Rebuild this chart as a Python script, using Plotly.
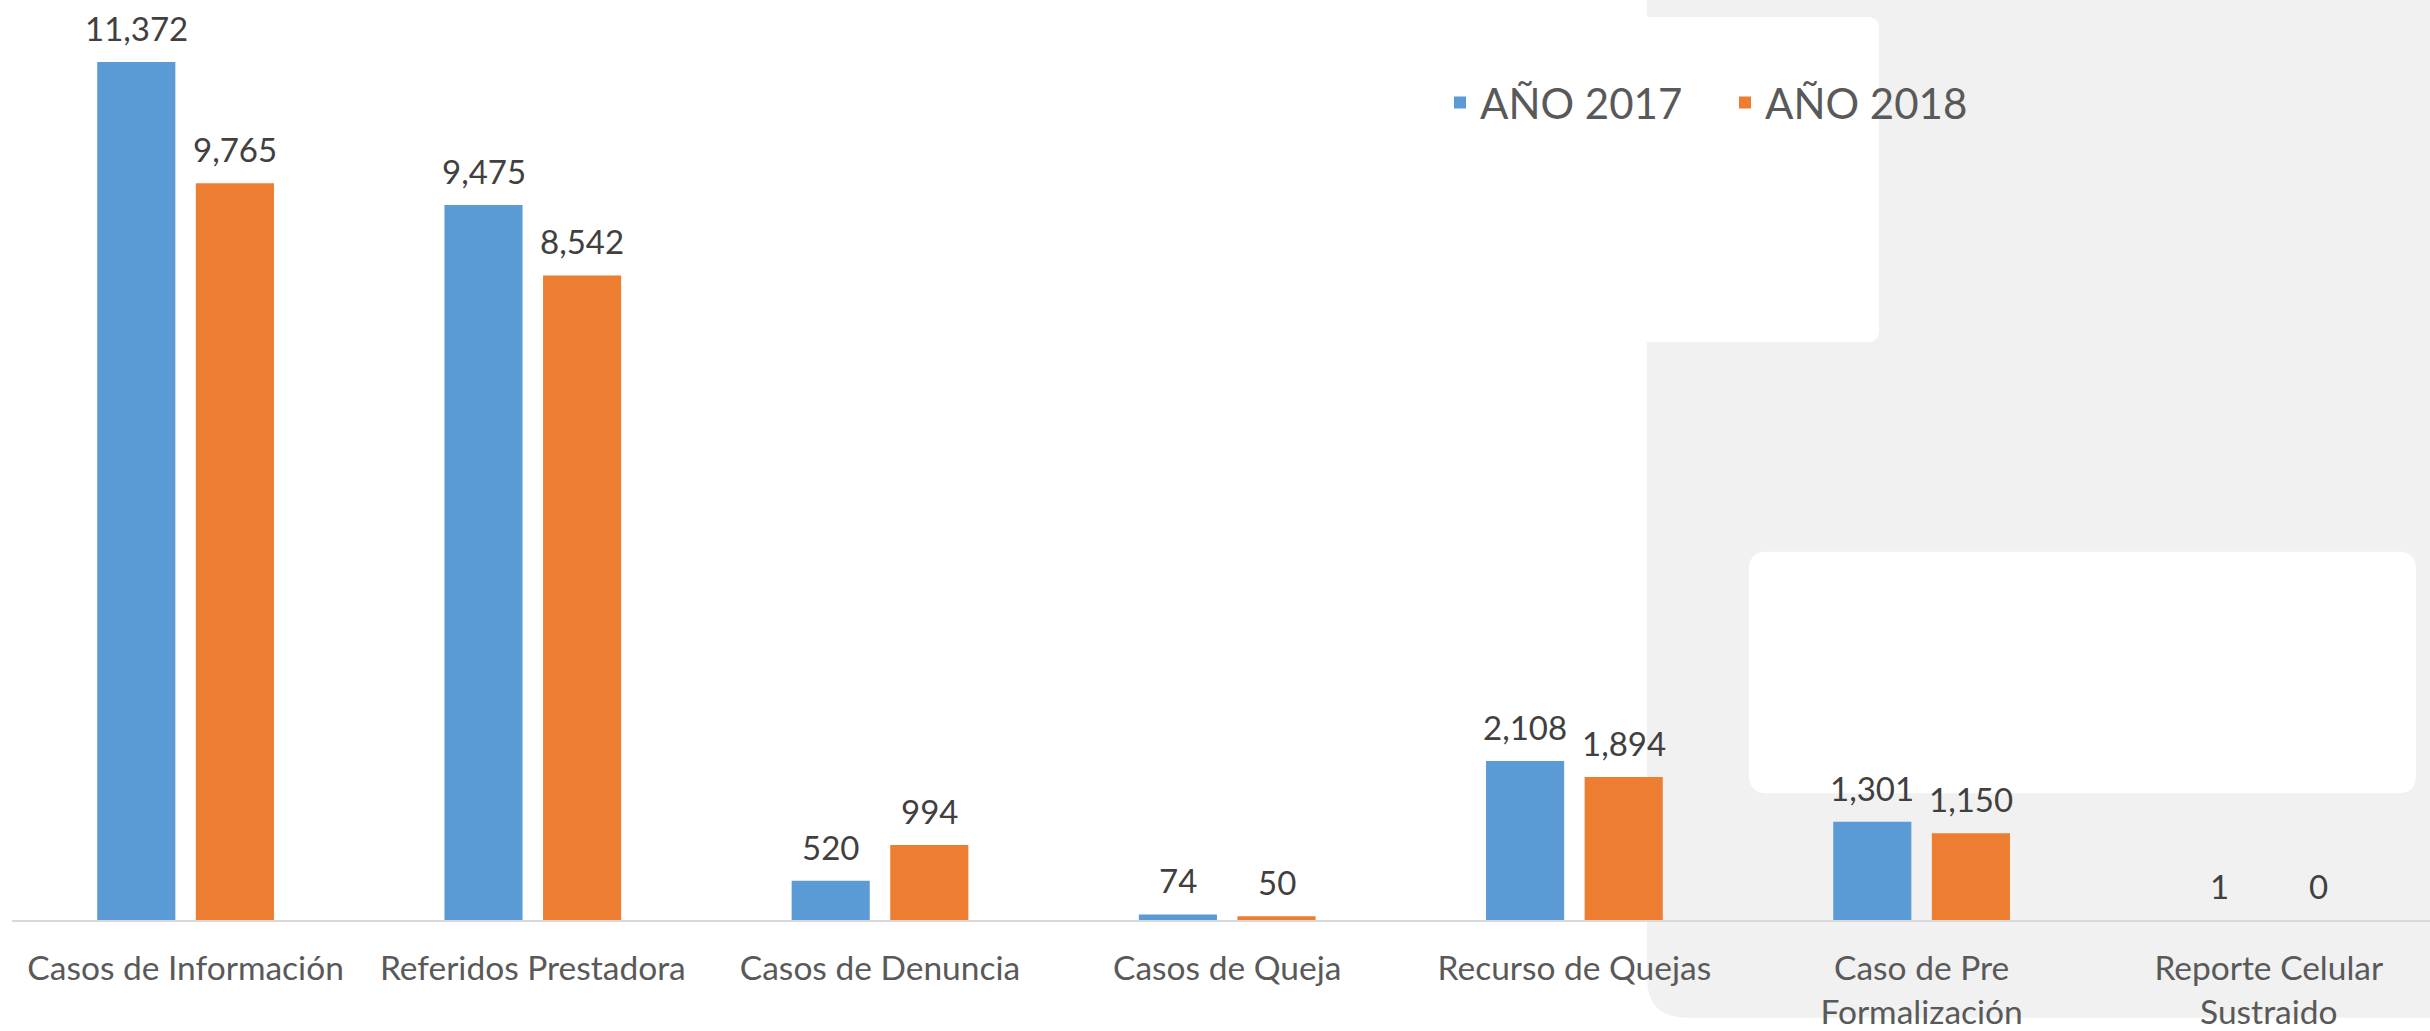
import plotly.graph_objects as go

categories = ["Casos de Información", "Referidos Prestadora", "Casos de Denuncia",
              "Casos de Queja", "Recurso de Quejas", "Caso de Pre<br>Formalización",
              "Reporte Celular<br>Sustraido"]
series_names = ["AÑO 2017", "AÑO 2018"]
values_2017 = [11372, 9475, 520, 74, 2108, 1301, 1]
values_2018 = [9765, 8542, 994, 50, 1894, 1150, 0]

W, H = 2430, 1031
ML, MR, MT, MB = 12, 0, 0, 109
PW, PH = W - ML - MR, H - MT - MB
CAT_PX = 347.2
XR = [-0.5, -0.5 + PW / CAT_PX]
YR = [0, 12192]

BLUE = "#5B9BD5"
ORANGE = "#ED7D31"
FONT = "Lato"

idx = list(range(len(categories)))
OFF = 0.142
BW = 0.225

fig = go.Figure()
for name, vals, col, sgn in [(series_names[0], values_2017, BLUE, -1),
                             (series_names[1], values_2018, ORANGE, 1)]:
    xs = [i + sgn * OFF for i in idx]
    fig.add_trace(go.Bar(x=xs, y=vals, width=BW, name=name,
                         marker=dict(color=col, line=dict(width=0)),
                         hoverinfo="skip"))
    for x, v in zip(xs, vals):
        fig.add_annotation(x=x, y=v, xref="x", yref="y", text=f"{v:,}",
                           showarrow=False, yanchor="bottom", yshift=12,
                           font=dict(family=FONT, size=33, color="#404040"))


def px2paper(x, y):
    return (x - ML) / PW, (MT + PH - y) / PH


def rrect(x0, y0, x1, y1, r, corners="tl tr br bl"):
    c = set(corners.split())
    def P(x, y):
        px, py = px2paper(x, y)
        return f"{px:.5f},{py:.5f}"
    rtl = r if "tl" in c else 0
    rtr = r if "tr" in c else 0
    rbr = r if "br" in c else 0
    rbl = r if "bl" in c else 0
    d = f"M{P(x0 + rtl, y0)} L{P(x1 - rtr, y0)} "
    if rtr: d += f"Q{P(x1, y0)} {P(x1, y0 + rtr)} "
    d += f"L{P(x1, y1 - rbr)} "
    if rbr: d += f"Q{P(x1, y1)} {P(x1 - rbr, y1)} "
    d += f"L{P(x0 + rbl, y1)} "
    if rbl: d += f"Q{P(x0, y1)} {P(x0, y1 - rbl)} "
    d += f"L{P(x0, y0 + rtl)} "
    if rtl: d += f"Q{P(x0, y0)} {P(x0 + rtl, y0)} "
    return d + "Z"


GRAY = "#F0F1F0"
fig.add_shape(type="path", xref="paper", yref="paper", layer="below",
              path=rrect(1647, -20, 2460, 1020, 40, "bl"),
              fillcolor=GRAY, line=dict(width=0))
fig.add_shape(type="path", xref="paper", yref="paper", layer="below",
              path=rrect(1647, 17, 1879, 343, 12, "tr br"),
              fillcolor="white", line=dict(width=0))
fig.add_shape(type="path", xref="paper", yref="paper", layer="below",
              path=rrect(1749, 553, 2416, 795, 18),
              fillcolor="white", line=dict(width=0))

fig.update_layout(
    width=W, height=H,
    margin=dict(l=ML, r=MR, t=MT, b=MB),
    paper_bgcolor="white", plot_bgcolor="rgba(0,0,0,0)",
    showlegend=True,
    legend=dict(orientation="h", x=px2paper(1440, 0)[0], y=px2paper(0, 103)[1],
                xanchor="left", yanchor="middle", bgcolor="rgba(0,0,0,0)",
                entrywidth=240, entrywidthmode="pixels",
                font=dict(family=FONT, size=42, color="#595959")),
    xaxis=dict(range=XR, tickvals=idx, ticktext=categories,
               showgrid=False, zeroline=False, showline=True,
               linecolor="#D9D9D9", linewidth=2,
               ticks="outside", ticklen=18, tickcolor="rgba(0,0,0,0)",
               tickfont=dict(family=FONT, size=33.5, color="#595959"),
               fixedrange=True),
    yaxis=dict(range=YR, visible=False, showgrid=False, zeroline=False),
)

fig.write_html("out.html",
               config={"displayModeBar": False, "staticPlot": True},
               post_script="document.body.style.margin='0';document.body.style.padding='0';")
